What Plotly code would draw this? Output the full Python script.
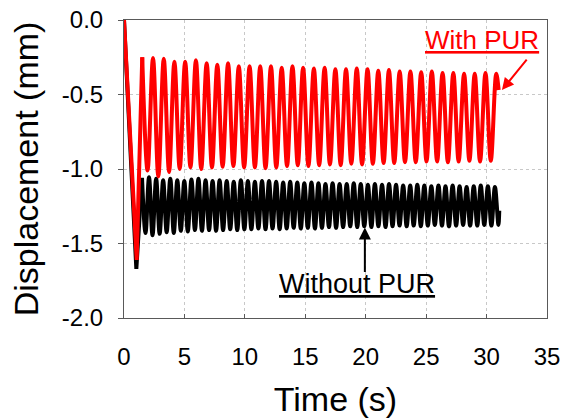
import plotly.graph_objects as go

# ---------------- data ----------------
# With PUR (red)
red_head_t = [0.0, 1.05]
red_head_y = [0.0, -1.61]
red_peak_t = [1.51, 2.40, 3.29, 4.17, 5.06, 5.95, 6.84, 7.72, 8.61, 9.50,
              10.39, 11.27, 12.16, 13.05, 13.94, 14.82, 15.71, 16.60, 17.49, 18.37,
              19.26, 20.15, 21.04, 21.92, 22.81, 23.70, 24.59, 25.47, 26.36, 27.25,
              28.14, 29.02, 29.91, 30.80]
red_peak_y = [-0.25, -0.255, -0.26, -0.28, -0.28, -0.27, -0.29, -0.30, -0.29, -0.31,
              -0.31, -0.31, -0.31, -0.32, -0.31, -0.32, -0.325, -0.32, -0.33, -0.33,
              -0.325, -0.33, -0.34, -0.335, -0.345, -0.345, -0.35, -0.345, -0.355, -0.355,
              -0.36, -0.36, -0.355, -0.36]
red_trough_t = [1.95, 2.84, 3.73, 4.61, 5.50, 6.39, 7.28, 8.16, 9.05, 9.94,
                10.83, 11.71, 12.60, 13.49, 14.38, 15.26, 16.15, 17.04, 17.93, 18.81,
                19.70, 20.59, 21.48, 22.36, 23.25, 24.14, 25.03, 25.91, 26.80, 27.69,
                28.58, 29.46, 30.35]
red_trough_y = [-1.01, -1.05, -1.02, -1.00, -0.99, -1.00, -0.99, -0.985, -0.98, -0.99,
                -0.99, -0.995, -0.99, -0.98, -0.975, -0.98, -0.975, -0.97, -0.975, -0.965,
                -0.97, -0.965, -0.96, -0.96, -0.955, -0.955, -0.95, -0.95, -0.955, -0.95,
                -0.945, -0.95, -0.945]
red_tail_t = [31.0]
red_tail_y = [-0.47]

# Without PUR (black)
blk_head_t = [0.0, 1.02]
blk_head_y = [0.0, -1.67]
blk_peak_t = [1.49, 2.07, 2.66, 3.24, 3.83, 4.41, 4.99, 5.58, 6.16, 6.75,
              7.33, 7.91, 8.50, 9.08, 9.67, 10.25, 10.83, 11.42, 12.00, 12.59,
              13.17, 13.75, 14.34, 14.92, 15.51, 16.09, 16.67, 17.26, 17.84, 18.43,
              19.01, 19.59, 20.18, 20.76, 21.35, 21.93, 22.51, 23.10, 23.68, 24.27,
              24.85, 25.43, 26.02, 26.60, 27.19, 27.77, 28.35, 28.94, 29.52, 30.11,
              30.69]
blk_peak_y = [-1.06, -1.055, -1.065, -1.075, -1.065, -1.075, -1.08, -1.07, -1.065, -1.075,
              -1.08, -1.075, -1.08, -1.085, -1.075, -1.08, -1.085, -1.08, -1.08, -1.085,
              -1.09, -1.085, -1.09, -1.095, -1.09, -1.095, -1.10, -1.095, -1.10, -1.10,
              -1.095, -1.10, -1.105, -1.10, -1.105, -1.10, -1.105, -1.11, -1.11, -1.105,
              -1.11, -1.115, -1.11, -1.115, -1.11, -1.115, -1.12, -1.115, -1.11, -1.115,
              -1.12]
blk_trough_t = [1.78, 2.36, 2.95, 3.53, 4.12, 4.70, 5.28, 5.87, 6.45, 7.04,
                7.62, 8.20, 8.79, 9.37, 9.96, 10.54, 11.12, 11.71, 12.29, 12.88,
                13.46, 14.04, 14.63, 15.21, 15.80, 16.38, 16.96, 17.55, 18.13, 18.72,
                19.30, 19.88, 20.47, 21.05, 21.64, 22.22, 22.80, 23.39, 23.97, 24.56,
                25.14, 25.72, 26.31, 26.89, 27.48, 28.06, 28.64, 29.23, 29.81, 30.40,
                30.98]
blk_trough_y = [-1.43, -1.445, -1.435, -1.425, -1.43, -1.415, -1.42, -1.41, -1.415, -1.41,
                -1.415, -1.41, -1.405, -1.41, -1.405, -1.405, -1.40, -1.405, -1.40, -1.405,
                -1.40, -1.395, -1.40, -1.395, -1.40, -1.395, -1.39, -1.395, -1.39, -1.385,
                -1.39, -1.385, -1.39, -1.385, -1.39, -1.385, -1.38, -1.385, -1.38, -1.385,
                -1.38, -1.375, -1.38, -1.385, -1.38, -1.375, -1.38, -1.38, -1.375, -1.38,
                -1.375]
blk_tail_t = [31.05]
blk_tail_y = [-1.28]

x_ticks = [0, 5, 10, 15, 20, 25, 30, 35]
y_ticks = [0.0, -0.5, -1.0, -1.5, -2.0]
y_tick_text = ["0.0", "-0.5", "-1.0", "-1.5", "-2.0"]


def interleave(pt, py, tt, ty):
    xs, ys = [], []
    for i in range(max(len(pt), len(tt))):
        if i < len(pt):
            xs.append(pt[i]); ys.append(py[i])
        if i < len(tt):
            xs.append(tt[i]); ys.append(ty[i])
    return xs, ys


rx, ry = interleave(red_peak_t, red_peak_y, red_trough_t, red_trough_y)
bx, by = interleave(blk_peak_t, blk_peak_y, blk_trough_t, blk_trough_y)
rx = rx + red_tail_t
ry = ry + red_tail_y
bx = bx + blk_tail_t
by = by + blk_tail_y

FONT = "Liberation Sans, Arial, sans-serif"

fig = go.Figure()
# initial loading ramp: straight segments (start -> minimum -> first peak)
fig.add_trace(go.Scatter(x=blk_head_t + [blk_peak_t[0]], y=blk_head_y + [blk_peak_y[0]],
                         mode="lines", line=dict(color="black", width=4),
                         hoverinfo="skip"))
fig.add_trace(go.Scatter(x=bx, y=by, mode="lines",
                         line=dict(color="black", width=4, shape="spline", smoothing=1.0),
                         name="Without PUR"))
fig.add_trace(go.Scatter(x=red_head_t + [red_peak_t[0]], y=red_head_y + [red_peak_y[0]],
                         mode="lines", line=dict(color="#ff0000", width=4),
                         hoverinfo="skip"))
fig.add_trace(go.Scatter(x=rx, y=ry, mode="lines",
                         line=dict(color="#ff0000", width=4, shape="spline", smoothing=1.0),
                         name="With PUR"))

fig.add_annotation(x=31.27, y=-0.47, xref="x", yref="y",
                   ax=26, ay=-32, showarrow=True, arrowhead=2, arrowsize=1.2,
                   arrowwidth=2, arrowcolor="#ff0000", text="")
fig.add_annotation(x=29.6, y=-0.137, xref="x", yref="y", showarrow=False,
                   text="<u>With PUR</u>", font=dict(family=FONT, size=26, color="#ff0000"))
fig.add_annotation(x=19.93, y=-1.393, xref="x", yref="y",
                   ax=0, ay=46, showarrow=True, arrowhead=2, arrowsize=1.2,
                   arrowwidth=2, arrowcolor="black", text="")
fig.add_annotation(x=19.28, y=-1.775, xref="x", yref="y", showarrow=False,
                   text="<u>Without PUR</u>", font=dict(family=FONT, size=27, color="black"))

fig.update_layout(
    width=564, height=418,
    margin=dict(l=124, r=17, t=20, b=100),
    plot_bgcolor="white", paper_bgcolor="white",
    showlegend=False,
    font=dict(family=FONT, color="black"),
)
fig.update_xaxes(range=[0, 35], tickvals=x_ticks, ticks="inside", ticklen=4,
                 tickcolor="#595959", showline=True, linecolor="#595959", linewidth=1,
                 mirror=True, showgrid=True, gridcolor="#c8c8c8", griddash="dot",
                 gridwidth=1, zeroline=False, tickfont=dict(size=24),
                 ticklabelstandoff=17, automargin=False,
                 title=dict(text="Time (s)", font=dict(size=34), standoff=26))
fig.update_yaxes(range=[-2, 0], tickvals=y_ticks, ticktext=y_tick_text,
                 ticks="outside", ticklen=5, tickcolor="#595959",
                 showline=True, linecolor="#595959", linewidth=1, mirror=True,
                 showgrid=True, gridcolor="#c8c8c8", griddash="dot", gridwidth=1,
                 zeroline=False, tickfont=dict(size=24), ticklabelstandoff=10,
                 automargin=False,
                 title=dict(text="Displacement (mm)", font=dict(size=34), standoff=12))

fig.write_html("out.html", config={"displayModeBar": False},
               post_script="document.body.style.margin='0';document.body.style.padding='0';")
